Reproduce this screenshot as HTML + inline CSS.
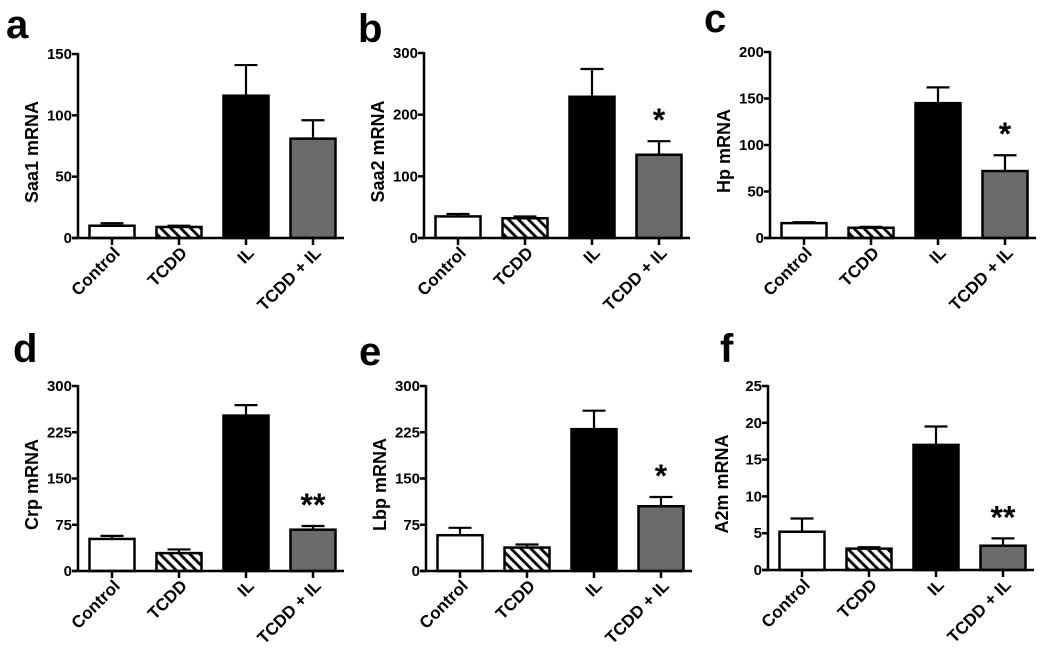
<!DOCTYPE html>
<html><head><meta charset="utf-8"><style>
body{margin:0;background:#fff}
svg{display:block;font-family:"Liberation Sans",Arial,sans-serif;font-weight:bold}
</style></head><body>
<svg id="fig" width="1050" height="661" viewBox="0 0 1050 661" xmlns="http://www.w3.org/2000/svg">
<defs>
<pattern id="hatch" patternUnits="userSpaceOnUse" width="7" height="7" patternTransform="rotate(-45)">
<rect width="7" height="7" fill="#fff"/><rect x="0" y="0" width="2.8" height="7" fill="#000"/>
</pattern>
</defs>
</svg>
<script>
const categories = ["Control","TCDD","IL","TCDD + IL"];
const panelLetters = ["a","b","c","d","e","f"];
const yTitles = ["Saa1 mRNA","Saa2 mRNA","Hp mRNA","Crp mRNA","Lbp mRNA","A2m mRNA"];
const yMax = [150,300,200,300,300,25];
const yTicks = [[0,50,100,150],[0,100,200,300],[0,50,100,150,200],[0,75,150,225,300],[0,75,150,225,300],[0,5,10,15,20,25]];
const valuesA = [10,9,116,81];   const errA = [2,1,25,15];
const valuesB = [35,32,229,135]; const errB = [4,3,45,22];
const valuesC = [16,11,145,72];  const errC = [1,1,17,17];
const valuesD = [52,29,252,67];  const errD = [5,6,17,6];
const valuesE = [58,38,230,105]; const errE = [12,5,30,15];
const valuesF = [5.2,2.9,17,3.3]; const errF = [1.8,0.2,2.5,1.0];
const sigMarks = [["","","",""],["","","","*"],["","","","*"],["","","","**"],["","","","*"],["","","","**"]];
const allValues = [valuesA,valuesB,valuesC,valuesD,valuesE,valuesF];
const allErrs = [errA,errB,errC,errD,errE,errF];

const layout = [
 {x0:78,top:54,y0:238,lx:6,ly:38},
 {x0:424,top:53,y0:238,lx:358,ly:42},
 {x0:770,top:52,y0:238,lx:704,ly:32},
 {x0:78,top:386,y0:571,lx:13,ly:362},
 {x0:426,top:386,y0:571,lx:359,ly:365},
 {x0:768,top:386,y0:570,lx:720,ly:362}
];
const fills = ["#fff","url(#hatch)","#000","#6b6b6b"];
const NS="http://www.w3.org/2000/svg";
const svg=document.getElementById('fig');
function mk(tag,attrs,parent,text){const e=document.createElementNS(NS,tag);for(const k in attrs)e.setAttribute(k,attrs[k]);if(text!==undefined)e.textContent=text;parent.appendChild(e);return e;}

layout.forEach((L,p)=>{
  const g=mk('g',{},svg);
  
  
  const yScale=v=>L.y0-(v/yMax[p])*(L.y0-L.top);
  const xCenter=i=>L.x0+34+i*67;
  const lt=mk('text',{x:L.lx,y:L.ly,'font-size':40},g,panelLetters[p]);
  
  
  allValues[p].forEach((v,i)=>{
    const cx=xCenter(i), yv=yScale(v), ye=yScale(v+allErrs[p][i]);
    const eb=mk('path',{d:`M${cx},${yv}V${ye}M${cx-11.5},${ye}H${cx+11.5}`,stroke:'#000','stroke-width':2.2,fill:'none'},g);
    
    
    const r=mk('rect',{x:cx-22.5,y:yv,width:45,height:L.y0-yv,fill:fills[i],stroke:'#000','stroke-width':2.5},g);
    
    
    if(sigMarks[p][i]){
      const s=mk('text',{x:cx,y:ye-10,'font-size':32,'text-anchor':'middle'},g,sigMarks[p][i]);
      
      
    }
    const tk=mk('line',{x1:cx,y1:L.y0,x2:cx,y2:L.y0+7,stroke:'#000','stroke-width':2.5},g);
    
    
    const ax=cx+9, ay=L.y0+16;
    const xl=mk('text',{x:ax,y:ay,'font-size':17,'text-anchor':'end',transform:`rotate(-45 ${ax} ${ay})`},g,categories[i]);
    
    
  });
  const ya=mk('line',{x1:L.x0,y1:L.top-1,x2:L.x0,y2:L.y0,stroke:'#000','stroke-width':2.5},g);
  
  
  const xa=mk('line',{x1:L.x0-6,y1:L.y0,x2:L.x0+266,y2:L.y0,stroke:'#000','stroke-width':2.5},g);
  
  
  yTicks[p].forEach(t=>{
    const y=yScale(t);
    const tl=mk('line',{x1:L.x0-6,y1:y,x2:L.x0,y2:y,stroke:'#000','stroke-width':2.5},g);
    
    
    const tt=mk('text',{x:L.x0-6,y:y+5,'font-size':15,'text-anchor':'end'},g,String(t));
    
    
  });
  const tx=L.x0-40, ty=(L.top+L.y0)/2;
  const yt=mk('text',{x:tx,y:ty+6,'font-size':18,'text-anchor':'middle',transform:`rotate(-90 ${tx} ${ty+6})`},g,yTitles[p]);
  
  
});
</script>
</body></html>
